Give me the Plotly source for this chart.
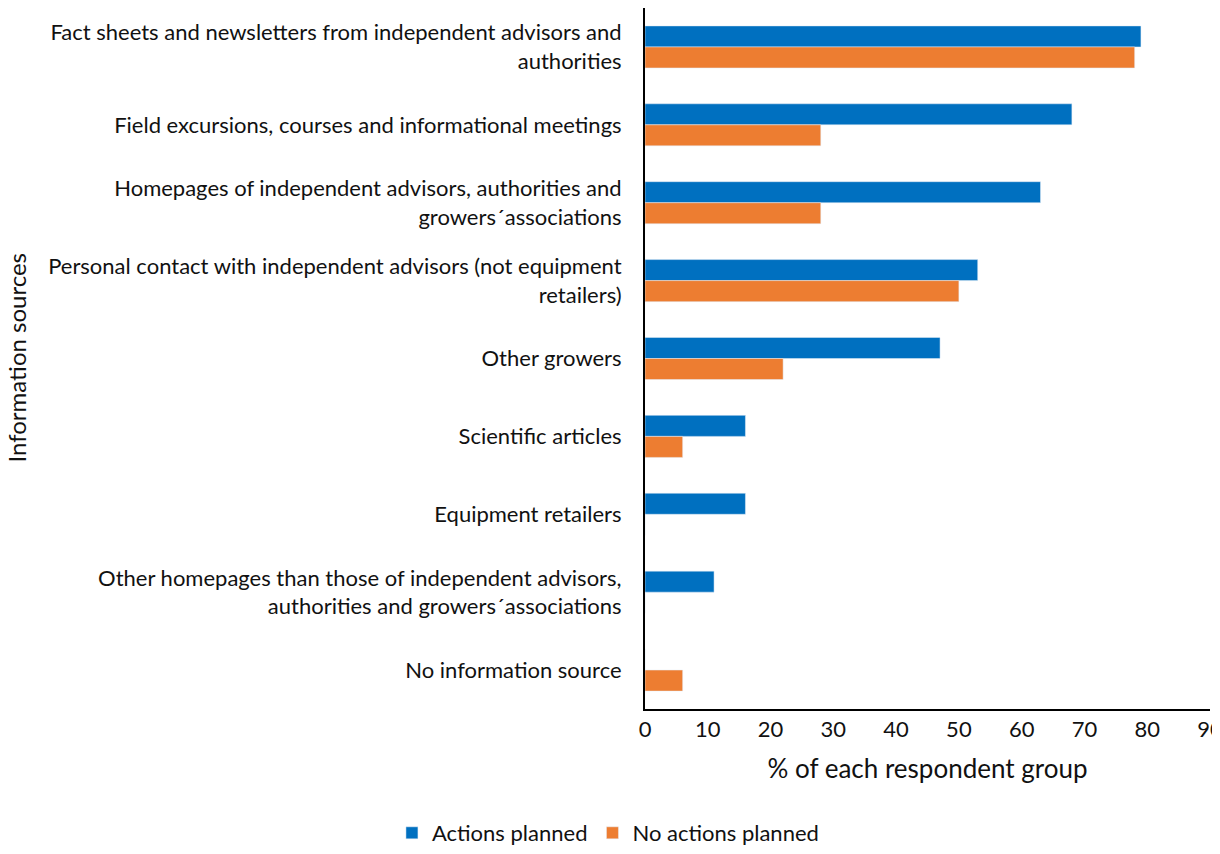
import plotly.graph_objects as go

categories = [
    "Fact sheets and newsletters from independent advisors and<br>authorities",
    "Field excursions, courses and informational meetings",
    "Homepages of independent advisors, authorities and<br>growers´associations",
    "Personal contact with independent advisors (not equipment<br>retailers)",
    "Other growers",
    "Scientific articles",
    "Equipment retailers",
    "Other homepages than those of independent advisors,<br>authorities and growers´associations",
    "No information source",
]
actions_planned = [79, 68, 63, 53, 47, 16, 16, 11, 0]
no_actions_planned = [78, 28, 28, 50, 22, 6, 0, 0, 6]

fig = go.Figure()
fig.add_trace(go.Bar(y=categories, x=actions_planned, orientation='h',
                     name='Actions planned', marker_color='#0070C0'))
fig.add_trace(go.Bar(y=categories, x=no_actions_planned, orientation='h',
                     name='No actions planned', marker_color='#ED7D31'))

# page has an 8px body margin, so the figure is shifted by that much
fig.update_layout(
    width=1212, height=846,
    margin={'l': 637, 'r': 10, 't': 0, 'b': 145},
    plot_bgcolor='white', paper_bgcolor='white',
    font={'family': 'Lato, Open Sans, sans-serif', 'size': 22, 'color': '#111111'},
    barmode='group', bargap=0.46, bargroupgap=0,
    legend={'orientation': 'h', 'xref': 'container', 'x': 0.495, 'xanchor': 'center',
            'yref': 'container', 'y': 0.0, 'yanchor': 'bottom',
            'font': {'size': 22}, 'itemwidth': 30},
)
fig.update_xaxes(range=[0, 90], dtick=10, showgrid=False, zeroline=False,
                 showline=True, linecolor='black', linewidth=2, ticks='',
                 ticklabeloverflow='allow', automargin=False,
                 title_text='% of each respondent group', title_standoff=18)
fig.update_yaxes(autorange='reversed', showgrid=False, showline=True,
                 linecolor='black', linewidth=2, ticks='', automargin=False,
                 ticklabelstandoff=17)
# rotated y title placed at the far left edge
fig.add_annotation(text='Information sources', textangle=-90,
                   xref='paper', x=(8 - 637) / 565, xanchor='center',
                   yref='paper', y=0.5, yanchor='middle',
                   showarrow=False, font={'size': 24})

fig.write_html("out.html")
